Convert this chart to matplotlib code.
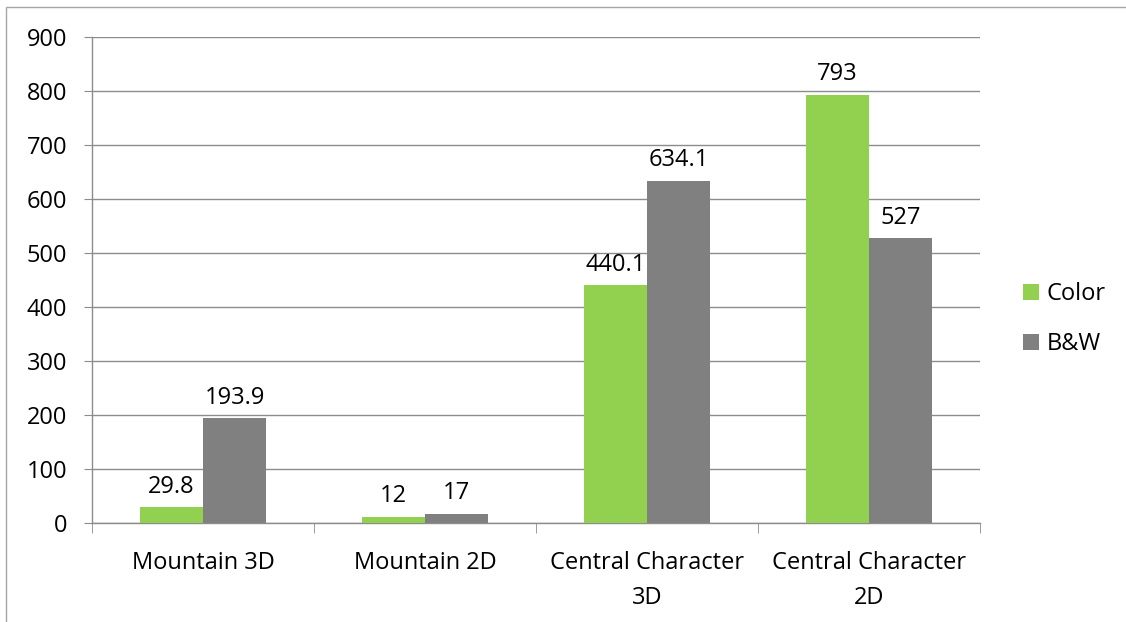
import matplotlib
matplotlib.use("Agg")
import matplotlib.pyplot as plt
import numpy as np
from matplotlib.patches import Rectangle

categories = ["Mountain 3D", "Mountain 2D", "Central Character\n3D", "Central Character\n2D"]
color_vals = [29.8, 12, 440.1, 793]
bw_vals = [193.9, 17, 634.1, 527]
color_labels = ["29.8", "12", "440.1", "793"]
bw_labels = ["193.9", "17", "634.1", "527"]

GREEN = "#92D050"
GRAY = "#808080"
LINE = "#8C8C8C"
FS = 17

plt.rcParams["font.family"] = ["Open Sans", "DejaVu Sans"]

W, H = 1126, 622
fig = plt.figure(figsize=(W / 100, H / 100), dpi=100)
ax = fig.add_axes([92 / W, 1 - 523 / H, (980 - 92) / W, (523 - 37) / H])

# chart border
fig.patches.append(Rectangle((6 / W, -0.1), 1.2, 1 - 7 / H + 0.1, transform=fig.transFigure,
                             fill=False, edgecolor="#A6A6A6", linewidth=1))

x = np.arange(len(categories))
bw = 0.2857
ax.bar(x - bw / 2, color_vals, bw, color=GREEN, label="Color", zorder=3)
ax.bar(x + bw / 2, bw_vals, bw, color=GRAY, label="B&W", zorder=3)

for i in range(len(categories)):
    ax.annotate(color_labels[i], (x[i] - bw / 2, color_vals[i]), xytext=(0, 6),
                textcoords="offset points", ha="center", va="bottom", fontsize=FS)
    ax.annotate(bw_labels[i], (x[i] + bw / 2, bw_vals[i]), xytext=(0, 6),
                textcoords="offset points", ha="center", va="bottom", fontsize=FS)

ax.set_xlim(-0.5, len(categories) - 0.5)
ax.set_ylim(0, 900)
ax.set_yticks(np.arange(0, 901, 100))
ax.tick_params(axis="y", length=6, color=LINE, labelsize=FS, pad=12)
ax.set_xticks(x)
ax.set_xticklabels(categories, fontsize=FS, linespacing=1.6)
ax.tick_params(axis="x", length=0, pad=20)
ax.set_xticks(np.arange(-0.5, len(categories), 1), minor=True)
ax.tick_params(axis="x", which="minor", length=7, color=LINE)
ax.grid(axis="y", color=LINE, linewidth=1, zorder=0)
for s in ["top", "right"]:
    ax.spines[s].set_visible(False)
for s in ["left", "bottom"]:
    ax.spines[s].set_color(LINE)
    ax.spines[s].set_linewidth(1)

leg = fig.legend(loc="center left", bbox_to_anchor=(1002 / W, 1 - 319 / H), frameon=False,
                 fontsize=FS, handlelength=0.65, handleheight=0.65, handletextpad=0.35,
                 labelspacing=1.1)

fig.savefig("out.png", dpi=100)
